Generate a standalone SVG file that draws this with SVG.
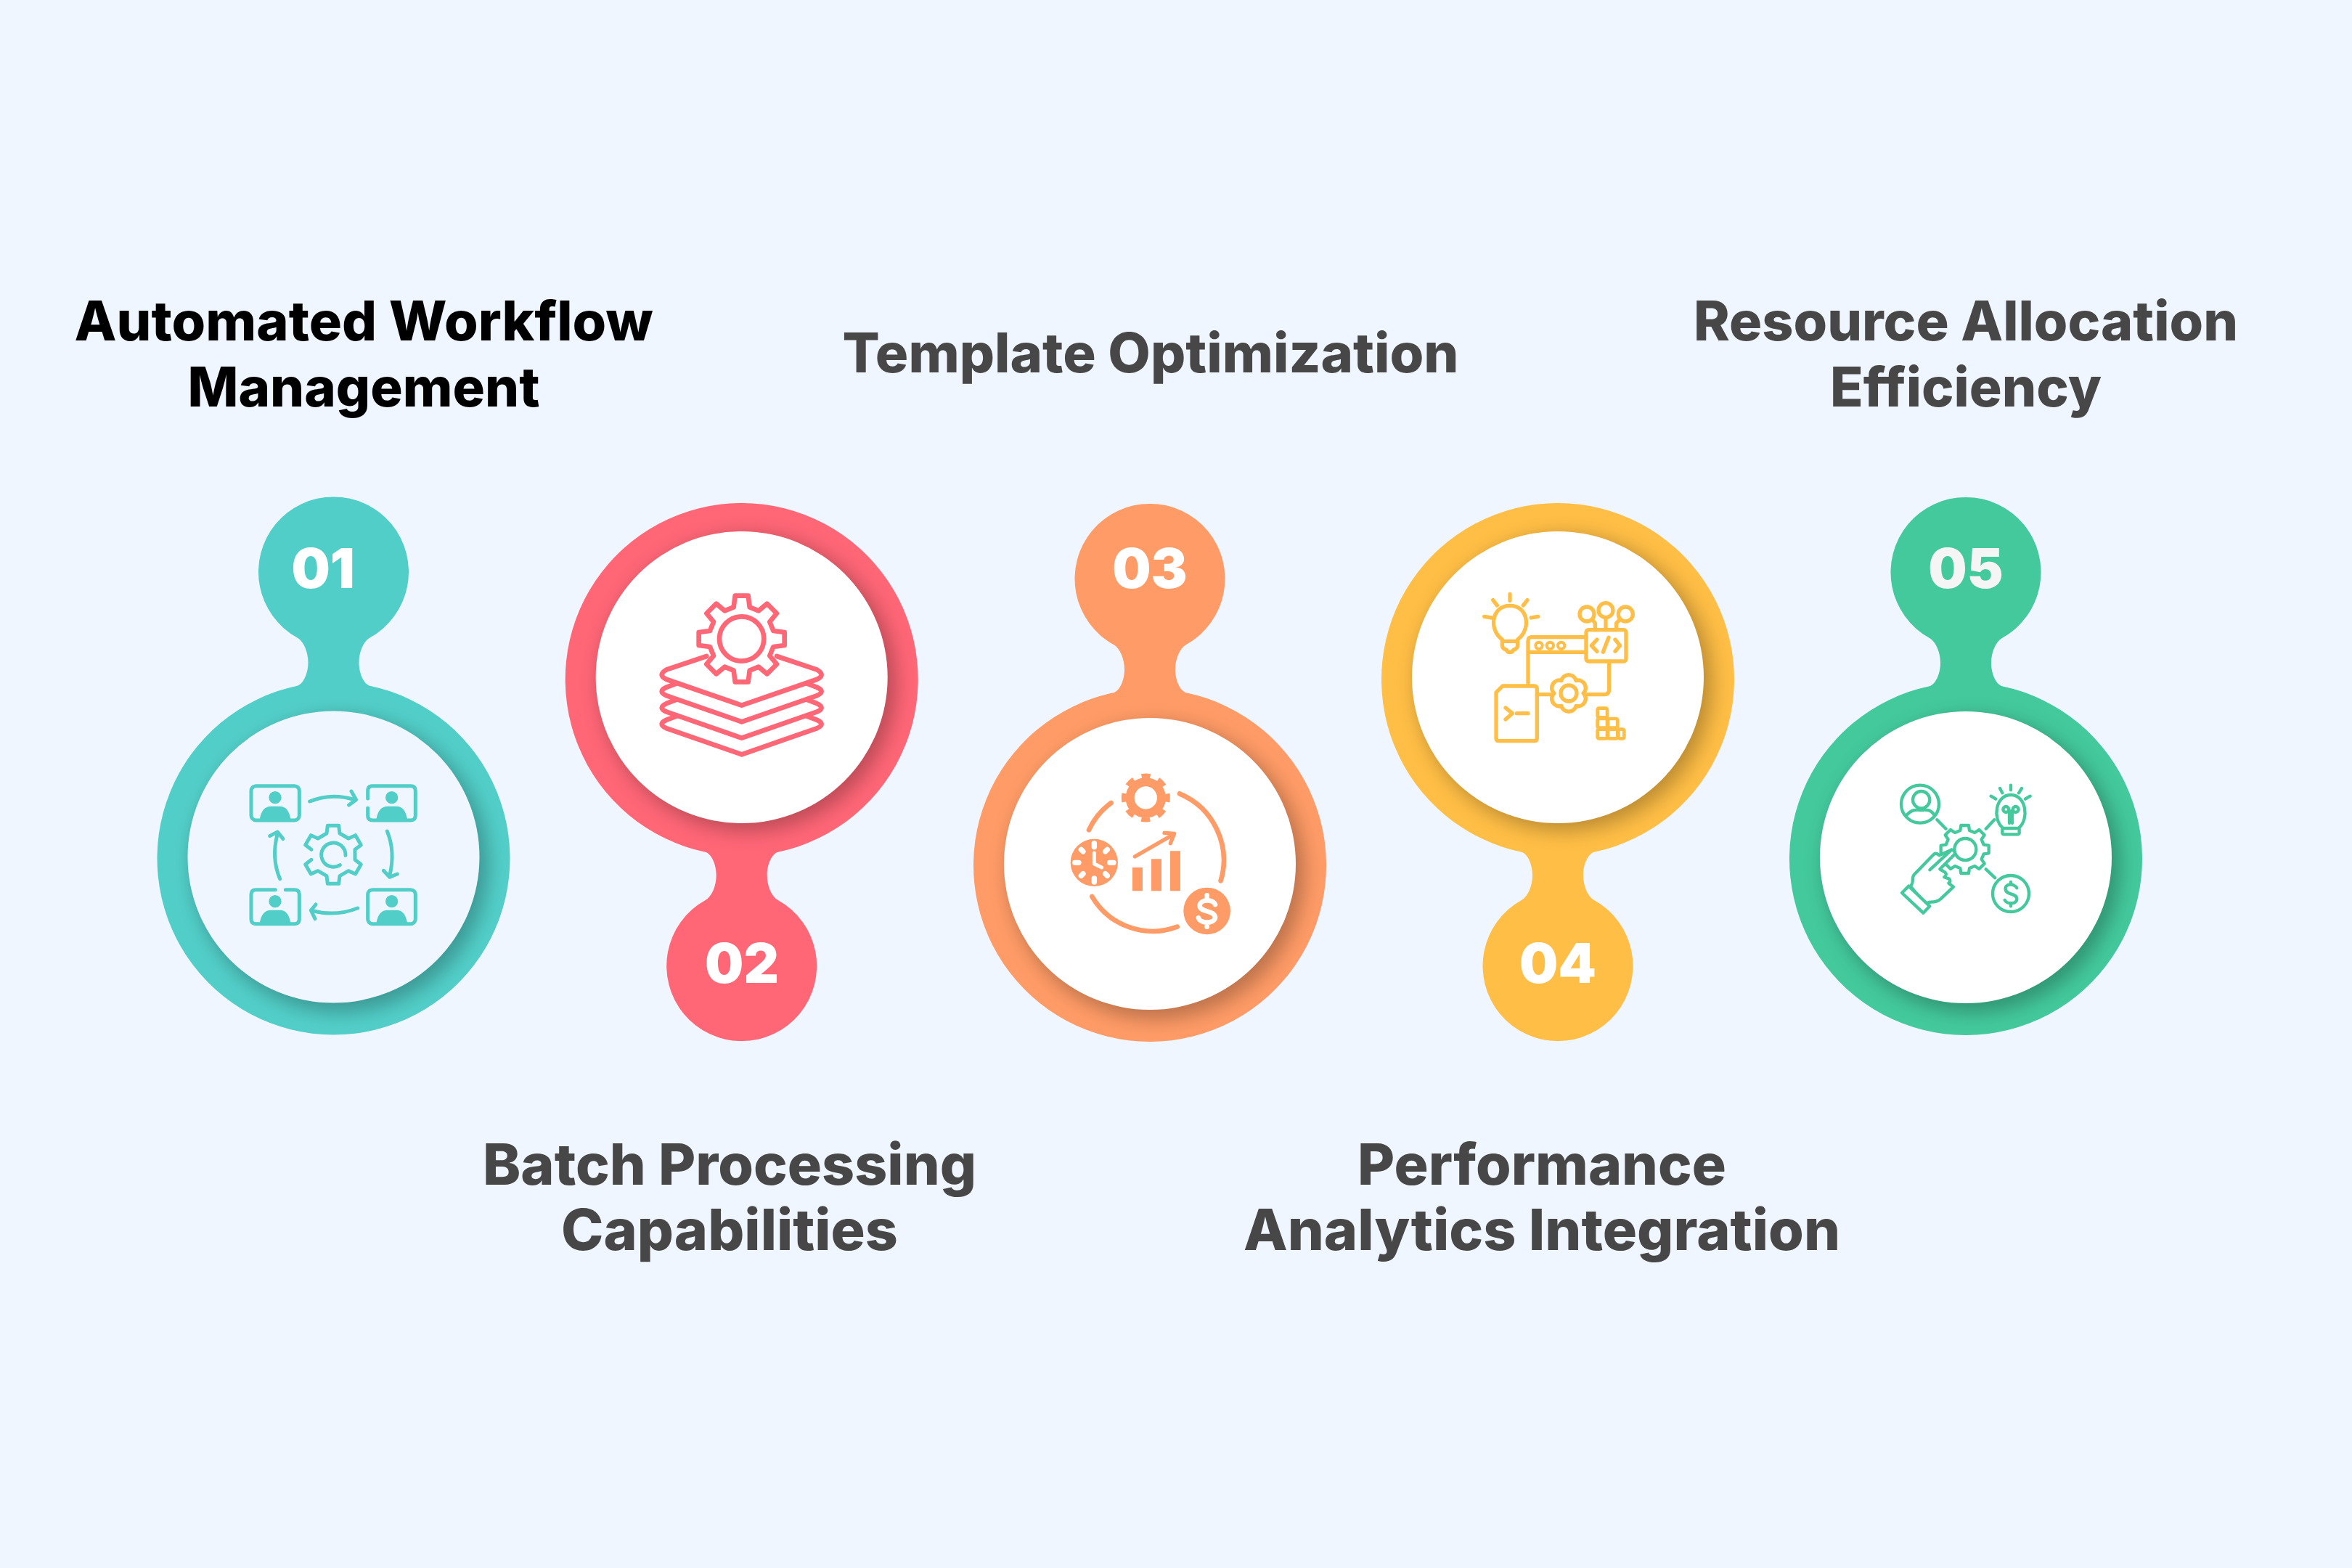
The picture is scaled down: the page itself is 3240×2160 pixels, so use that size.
<svg xmlns="http://www.w3.org/2000/svg" xmlns:xlink="http://www.w3.org/1999/xlink" width="3240" height="2160" viewBox="0 0 3240 2160">
<style>
.t{font-family:"Inter","Liberation Sans",sans-serif;font-weight:800;font-size:75px;text-anchor:middle;fill:#474747}
.b{font-size:78px}
.n{font-family:"Inter","Liberation Sans",sans-serif;font-weight:900;font-size:75px;text-anchor:middle;fill:#fff}
.ln{fill:none;stroke-linecap:round;stroke-linejoin:round}
.sh{fill:#000;fill-opacity:.26;filter:url(#blur)}
</style>
<defs>
<filter id="blur" x="-20%" y="-20%" width="140%" height="140%"><feGaussianBlur stdDeviation="13"/></filter>
<path id="body" d="M50,-237.8A243,243 0 1 1 -50,-237.8C-42,-240 -35,-254 -35,-270C-35,-284 -41,-299 -50,-304A103.5,103.5 0 1 1 50,-304C41,-299 35,-284 35,-270C35,-254 42,-240 50,-237.8Z"/>
<clipPath id="ring"><circle r="243"/></clipPath>
<g id="frame"><circle cx="177" cy="116" r="26" stroke="none" fill="#52CEC8"/><path stroke="none" fill="#52CEC8" d="M113,208C118,170 135,152 160,152H195C222,152 235,170 242,208Z"/></g>
<path id="layer" d="M125,425L85,440Q45,458 85,475L395,583L705,475Q745,458 705,440L665,425"/>
</defs>
<rect width="3240" height="2160" fill="#F0F6FF"/>

<g id="node-1">
<use href="#body" transform="translate(459.5,1182.5)" fill="#52CEC8"/>
<g transform="translate(459.5,1182.5)"><g clip-path="url(#ring)"><circle class="sh" cx="9" cy="8" r="204"/></g><circle cy="-2" r="201" fill="#F0F6FF"/></g>
<g transform="translate(320,1060) scale(.3333)" class="ln" stroke="#52CEC8" stroke-width="15">
<rect x="78" y="68" width="199" height="142" rx="20"/>
<path d="M560,120V88Q560,68 580,68H737Q757,68 757,88V190Q757,210 737,210H580Q560,210 560,190V160"/>
<path d="M178,497H98Q78,497 78,517V618Q78,638 98,638H257Q277,638 277,618V517Q277,497 257,497H220"/>
<rect x="560" y="497" width="197" height="141" rx="20"/>
<use href="#frame"/><use href="#frame" x="482"/><use href="#frame" y="429"/><use href="#frame" x="482" y="429"/>
<path d="M320,132Q410,95 505,125M492,90L512,125L482,147"/>
<path d="M640,255Q675,340 650,440M625,418L650,445L682,432"/>
<path d="M518,573Q425,610 330,583M345,558L325,582L342,617"/>
<path d="M197,452Q160,365 187,265M155,275L187,258L210,287"/>
<path d="M327,331L302,312L325,272L354,285L390,264L394,232L440,232L444,264L480,285L509,272L532,312L507,331L507,373L532,392L509,432L480,419L444,440L440,472L394,472L390,440L354,419L325,432L302,392L327,373"/>
<path d="M468,355A50,50 0 1 0 445,395"/>
</g>
<text class="n" x="445" y="810">01</text>
<text class="t" style="fill:#000" x="501" y="469" textLength="797" lengthAdjust="spacingAndGlyphs">Automated Workflow</text>
<text class="t" style="fill:#000" x="501" y="560" textLength="485" lengthAdjust="spacingAndGlyphs">Management</text>
</g>

<g id="node-2">
<use href="#body" transform="translate(1021.7,936) scale(1,-1)" fill="#FF6676"/>
<g transform="translate(1021.7,936)"><g clip-path="url(#ring)"><circle class="sh" cx="9" cy="5" r="204"/></g><circle cy="-3" r="201" fill="#fff"/></g>
<g transform="translate(890,800) scale(.3333)" class="ln" stroke="#FF6676" stroke-width="20">
<path d="M250,312L85,367Q45,390 85,408L395,515L705,408Q745,390 705,367L540,312"/>
<use href="#layer"/><use href="#layer" y="67"/><use href="#layer" y="135"/>
<path fill="#fff" d="M362,109L368,62H422L428,109L465,124L500,95L540,135L511,170L526,207L572,213V267L526,273L511,310L540,345L500,385L465,356L428,371L422,418H368L362,371L325,356L290,385L250,345L279,310L264,273L218,267V213L264,207L279,170L250,135L290,95L325,124Z"/>
<circle cx="395" cy="240" r="92"/>
</g>
<text class="n" x="1022" y="1354">02</text>
<text class="t b" x="1005" y="1632" textLength="680" lengthAdjust="spacingAndGlyphs">Batch Processing</text>
<text class="t b" x="1005" y="1722" textLength="464" lengthAdjust="spacingAndGlyphs">Capabilities</text>
</g>

<g id="node-3">
<use href="#body" transform="translate(1584,1192)" fill="#FF9B66"/>
<g transform="translate(1584,1192)"><g clip-path="url(#ring)"><circle class="sh" cx="9" cy="8" r="204"/></g><circle cy="-2" r="201" fill="#fff"/></g>
<g transform="translate(1450,1050) scale(.3333)" class="ln" stroke="#FF9B66" stroke-width="20">
<circle cx="385" cy="147" r="65" stroke-width="36"/>
<circle cx="385" cy="147" r="91" stroke-width="19" stroke-dasharray="36 35.48" stroke-dashoffset="18" style="stroke-linecap:butt"/>
<path d="M525,130A298,298 0 0 1 695,490M163,555A290,290 0 0 0 515,680M150,280A290,290 0 0 1 242,168"/>
<circle cx="172" cy="415" r="98" fill="#FF9B66" stroke="none"/>
<path stroke="#fff" stroke-width="22" d="M172,335V350M172,480V495M92,415H108M236,415H252M118,361L126,369M226,361L218,369M118,469L126,461M226,469L218,461"/>
<path stroke="#fff" stroke-width="15" d="M172,375V420L203,435"/>
<path fill="#FF9B66" stroke="none" d="M330,435h42v97h-42zM408,400h42v132h-42zM486,367h42v165h-42z"/>
<path stroke-width="16" d="M340,390L500,298M462,292L503,295L487,335"/>
<circle cx="638" cy="615" r="97" fill="#FF9B66" stroke="none"/>
<path stroke="#fff" stroke-width="20" d="M672,588C665,565 610,565 608,592C607,622 672,610 672,643C668,668 610,668 603,643M638,550V565M638,665V680"/>
</g>
<text class="n" x="1584" y="810">03</text>
<text class="t" x="1585" y="513" textLength="849" lengthAdjust="spacingAndGlyphs">Template Optimization</text>
</g>

<g id="node-4">
<use href="#body" transform="translate(2146,936) scale(1,-1)" fill="#FFBE45"/>
<g transform="translate(2146,936)"><g clip-path="url(#ring)"><circle class="sh" cx="9" cy="5" r="204"/></g><circle cy="-3" r="201" fill="#fff"/></g>
<g transform="translate(2030,800) scale(.3333)" class="ln" stroke="#FFBE45" stroke-width="16">
<path d="M118,243C60,200 75,103 150,103C225,103 240,200 182,243V268Q180,282 165,285A16,16 0 0 1 135,285Q120,282 118,268ZM120,250H180"/>
<path d="M150,55V82M80,80L97,102M222,80L205,102M44,148L72,153M266,148L238,153"/>
<path d="M465,233H240Q225,233 225,248V430M230,295H465"/>
<g stroke-width="12"><circle cx="270" cy="268" r="14"/><circle cx="316" cy="268" r="14"/><circle cx="362" cy="268" r="14"/></g>
<rect x="465" y="203" width="165" height="130" rx="10"/>
<path d="M510,243L487,268L510,292M585,243L605,268L585,292M558,235L535,295"/>
<circle cx="468" cy="138" r="30"/><circle cx="546" cy="122" r="30"/><circle cx="628" cy="138" r="30"/>
<path d="M502,203V175L490,160M546,152V203M590,203V175L605,160"/>
<path d="M560,333V450Q560,470 540,470H470M262,470H315"/>
<path d="M364,415A30,30 0 0 1 422,415A30,30 0 0 1 451,465A30,30 0 0 1 422,515A30,30 0 0 1 364,515A30,30 0 0 1 335,465A30,30 0 0 1 364,415Z" transform="translate(393,465) scale(1.05) translate(-393,-465)"/>
<circle cx="393" cy="465" r="33"/>
<path d="M250,435H120L93,462V650Q93,662 105,662H250Q262,662 262,650V447Q262,435 250,435Z"/>
<path d="M132,525L160,548L132,573M178,548H225"/>
<g stroke-width="14"><rect x="512" y="527" width="40" height="38" rx="6"/><rect x="512" y="570" width="40" height="38" rx="6"/><rect x="555" y="570" width="40" height="38" rx="6"/><rect x="512" y="614" width="40" height="38" rx="6"/><rect x="555" y="614" width="40" height="38" rx="6"/><rect x="598" y="614" width="24" height="38" rx="6"/></g>
</g>
<text class="n" x="2146" y="1354">04</text>
<text class="t b" x="2124" y="1632" textLength="508" lengthAdjust="spacingAndGlyphs">Performance</text>
<text class="t b" x="2124" y="1722" textLength="822" lengthAdjust="spacingAndGlyphs">Analytics Integration</text>
</g>

<g id="node-5">
<use href="#body" transform="translate(2708,1183)" fill="#43C99C"/>
<g transform="translate(2708,1183)"><g clip-path="url(#ring)"><circle class="sh" cx="9" cy="8" r="204"/></g><circle cy="-2" r="201" fill="#fff"/></g>
<g transform="translate(2590,1060) scale(.3333)" class="ln" stroke="#43C99C" stroke-width="13">
<circle cx="165" cy="143" r="78"/><circle cx="170" cy="125" r="35"/>
<path d="M108,190C130,165 150,165 170,168C190,165 210,165 225,190"/>
<path d="M235,208L272,245M472,208L437,245M437,412L475,448"/>
<path d="M505,240C465,205 475,105 540,105C605,105 615,205 575,240V262Q575,268 568,268H512Q505,268 505,262ZM505,243H575"/>
<path d="M540,65V85M495,78L505,97M585,78L573,97M458,110L478,122M620,110L600,122"/>
<circle cx="520" cy="165" r="12"/><circle cx="560" cy="165" r="12"/><path d="M534,170V222M546,170V222"/>
<path d="M331,252L334,231H366L369,252L391,261L409,249L431,271L419,289L428,311L449,314V346L428,349L419,371L431,389L409,411L391,399L369,408L366,429H334L331,408L309,399L291,411L269,389L281,371L272,349L251,346V314L272,311L281,289L269,271L291,249L309,261Z"/>
<circle cx="352" cy="330" r="45"/>
<path fill="#fff" d="M125,482C142,468 128,450 140,435L222,350Q232,343 244,355L295,332Q312,335 308,350L247,412L268,425Q278,435 265,445L285,452Q295,462 283,470L303,485L250,535Q235,548 210,548Q195,548 190,560Z"/>
<path d="M205,415L295,332"/>
<path fill="#fff" d="M90,510L118,482L205,565L178,593Z"/>
<circle cx="540" cy="513" r="75"/>
<path d="M565,490C555,470 515,470 518,495C520,520 565,510 565,535C565,558 525,558 515,540M540,465V475M540,552V565"/>
</g>
<text class="n" x="2708" y="810" style="fill:#f5f5f5">05</text>
<text class="t" x="2708" y="469" textLength="750" lengthAdjust="spacingAndGlyphs">Resource Allocation</text>
<text class="t" x="2708" y="560" textLength="374" lengthAdjust="spacingAndGlyphs">Efficiency</text>
</g>
</svg>
